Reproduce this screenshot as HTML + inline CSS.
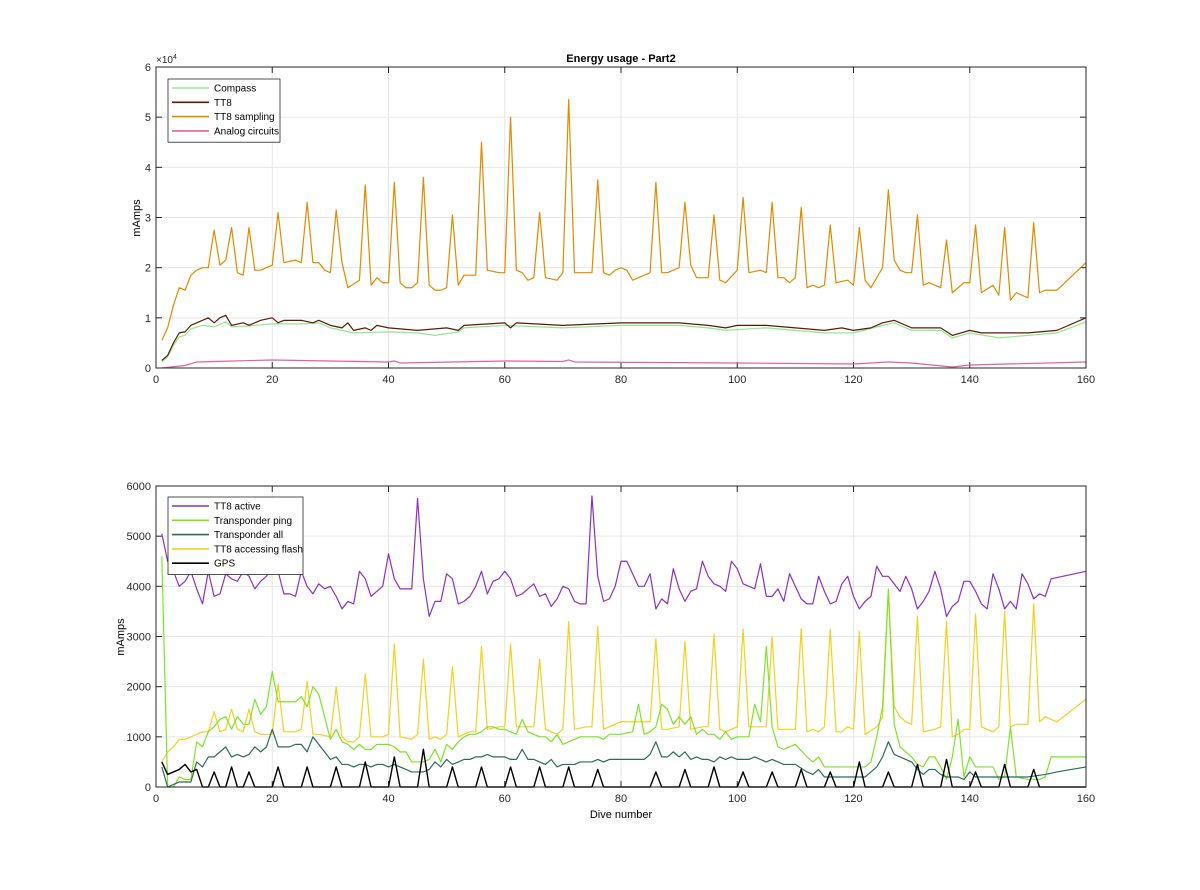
<!DOCTYPE html>
<html><head><meta charset="utf-8"><style>
body{margin:0;background:#fff;font-family:"Liberation Sans",sans-serif}
svg text{font-family:"Liberation Sans",sans-serif}
</style></head><body>
<svg id="fig" width="1200" height="885" xmlns="http://www.w3.org/2000/svg"></svg>
<script>
// ---- top chart data (units of 1e4 mAmps) ----
const sampX=[1,2,3,4,5,6,7,8,9,10,11,12,13,14,15,16,17,18,20,21,22,24,25,26,27,28,29,30,31,32,33,35,36,37,38,39,40,41,42,43,44,45,46,47,48,49,50,51,52,53,55,56,57,59,60,61,62,63,64,65,66,67,69,70,71,72,74,75,76,77,78,79,80,81,82,84,85,86,87,88,90,91,92,93,95,96,97,98,100,101,102,104,105,106,107,108,109,110,111,112,113,114,115,116,117,119,120,121,122,123,125,126,127,128,129,130,131,132,133,135,136,137,138,139,140,141,142,144,145,146,147,148,150,151,152,153,155,160];
const sampY=[0.55,0.8,1.25,1.6,1.55,1.85,1.95,2.0,2.0,2.75,2.05,2.15,2.8,1.9,1.85,2.8,1.95,1.95,2.05,3.1,2.1,2.15,2.1,3.3,2.1,2.1,1.95,1.9,3.15,2.1,1.6,1.75,3.65,1.65,1.8,1.7,1.7,3.7,1.7,1.6,1.6,1.7,3.8,1.65,1.55,1.55,1.6,3.05,1.65,1.85,1.85,4.5,1.95,1.9,1.9,5.0,1.95,1.9,1.75,1.8,3.1,1.8,1.75,1.9,5.35,1.9,1.9,1.9,3.75,1.9,1.85,1.95,2.0,1.95,1.75,1.85,1.9,3.7,1.9,1.9,2.0,3.3,2.05,1.8,1.8,3.05,1.75,1.7,1.95,3.4,1.9,1.95,1.9,3.3,1.8,1.8,1.7,1.8,3.2,1.6,1.65,1.6,1.65,2.85,1.7,1.75,1.65,2.8,1.75,1.6,2.0,3.55,2.15,1.95,1.9,1.9,3.05,1.65,1.7,1.6,2.55,1.5,1.6,1.7,1.7,2.85,1.5,1.65,1.45,2.8,1.35,1.5,1.4,2.9,1.5,1.55,1.55,2.1];
const tt8X=[1,2,3,4,5,6,8,9,10,11,12,13,15,16,18,20,21,22,25,27,28,30,32,33,34,36,37,38,40,45,50,52,53,60,61,62,70,80,90,95,98,100,105,110,115,118,120,123,125,127,130,135,137,140,142,145,150,155,160];
const tt8Y=[0.15,0.25,0.5,0.7,0.72,0.85,0.95,1.0,0.9,1.0,1.05,0.85,0.9,0.85,0.95,1.0,0.9,0.95,0.95,0.9,0.95,0.85,0.8,0.9,0.75,0.8,0.75,0.85,0.8,0.75,0.8,0.75,0.85,0.9,0.8,0.9,0.85,0.9,0.9,0.85,0.8,0.85,0.85,0.8,0.75,0.8,0.75,0.8,0.9,0.95,0.8,0.8,0.65,0.75,0.7,0.7,0.7,0.75,1.0];
const compX=[1,2,3,4,5,6,8,10,12,13,15,20,25,28,30,34,40,45,48,52,53,60,70,80,90,95,98,105,115,120,125,127,130,135,137,140,145,150,155,160];
const compY=[0.12,0.22,0.45,0.62,0.65,0.78,0.85,0.82,0.92,0.82,0.83,0.88,0.88,0.9,0.8,0.7,0.72,0.7,0.65,0.72,0.8,0.85,0.8,0.85,0.85,0.8,0.75,0.8,0.7,0.7,0.85,0.9,0.75,0.75,0.6,0.7,0.6,0.65,0.7,0.92];
const anaX=[1,5,7,10,20,30,40,41,42,60,70,71,72,100,120,126,130,137,140,160];
const anaY=[0.0,0.05,0.12,0.13,0.16,0.14,0.12,0.14,0.1,0.14,0.13,0.16,0.12,0.1,0.08,0.12,0.1,0.02,0.06,0.12];
// ---- bottom chart data (mAmps) ----
const actX=[1,2,3,4,5,6,7,8,9,10,11,12,13,14,15,16,17,18,19,20,21,22,23,24,25,26,27,28,29,30,31,32,33,34,35,36,37,38,39,40,41,42,43,44,45,46,47,48,49,50,51,52,53,54,55,56,57,58,59,60,61,62,63,64,65,66,67,68,69,70,71,72,73,74,75,76,77,78,79,80,81,82,83,84,85,86,87,88,89,90,91,92,93,94,95,96,97,98,99,100,101,102,103,104,105,106,107,108,109,110,111,112,113,114,115,116,117,118,119,120,121,122,123,124,125,126,127,128,129,130,131,132,133,134,135,136,137,138,139,140,141,142,143,144,145,146,147,148,149,150,151,152,153,154,160];
const actY=[5050,4500,4300,4000,4100,4300,3950,3650,4300,3800,3850,4250,4150,4100,4300,4200,3950,4100,4200,4400,4300,3850,3850,3800,4300,4000,3850,4050,3950,4000,3800,3550,3700,3650,4300,4150,3800,3900,4000,4650,4150,3950,3950,3950,5750,4150,3400,3700,3700,4250,4150,3650,3700,3800,4000,4300,3850,4100,4150,4300,4150,3800,3850,3950,4050,3800,3850,3600,3750,4000,3950,3700,3650,3650,5800,4200,3700,3750,4000,4500,4500,4250,4000,4000,4250,3550,3750,3650,4350,3950,3700,3900,3950,4500,4200,4050,4000,3900,4500,4350,4050,4000,3950,4450,3800,3800,3950,3700,4250,4000,3750,3650,3650,4200,3900,3650,3700,4050,4200,3800,3550,3700,3800,4400,4200,4200,4050,3900,4200,3950,3550,3700,3900,4300,3950,3400,3600,3700,4100,4100,3900,3650,3550,4250,3950,3550,3700,3550,4250,4050,3750,3850,3800,4150,4300];
const flashX=[1,2,3,4,5,6,7,8,9,10,11,12,13,14,15,16,17,18,20,21,22,24,25,26,27,28,30,31,32,33,34,35,36,37,39,40,41,42,44,45,46,47,48,49,50,51,52,54,55,56,57,59,60,61,62,64,65,66,67,68,69,70,71,72,74,75,76,77,79,80,81,84,85,86,87,88,90,91,92,94,95,96,97,98,100,101,102,104,105,106,107,108,110,111,112,113,114,115,116,117,118,119,120,121,122,124,125,126,127,128,129,130,131,132,134,135,136,137,138,139,140,141,142,144,145,146,147,148,150,151,152,153,155,160];
const flashY=[500,700,800,950,950,1000,1050,1100,1100,1500,1100,1150,1550,1150,1100,1550,1100,1050,1050,2050,1100,1100,1150,2100,1050,1050,1000,2000,1000,900,900,1000,2250,1000,1000,1050,2850,1000,950,1050,2550,950,1000,950,1050,2400,1000,1100,1100,2800,1150,1200,1200,2850,1200,1200,1200,2550,1150,1100,1050,1150,3300,1150,1200,1200,3200,1150,1250,1300,1300,1300,1300,2950,1150,1150,1200,2900,1150,1200,1200,3050,1150,1100,1200,3150,1200,1200,1200,3000,1150,1150,1150,3150,1100,1150,1100,1200,3150,1100,1100,1200,1150,3100,1050,1200,1400,3900,1600,1400,1300,1250,3400,1100,1150,1200,3300,1000,1050,1150,1150,3450,1200,1100,1200,3500,1200,1250,1250,3650,1300,1400,1300,1750];
const pingX=[1,2,3,4,5,6,7,8,9,10,11,12,13,14,15,16,17,18,19,20,21,22,
24,25,26,27,28,29,30,31,32,33,34,35,36,37,38,39,40,41,42,43,44,45,46,47,48,49,50,51,52,53,54,55,56,57,58,59,60,61,62,63,64,65,66,67,68,69,70,71,72,73,74,75,76,77,78,79,80,
82,83,84,85,86,87,88,89,90,91,92,93,94,95,96,97,98,99,100,102,103,104,105,106,107,108,
110,112,113,114,115,120,122,123,124,125,126,127,128,129,130,131,132,133,134,135,136,137,138,139,140,141,144,145,146,147,148,150,152,153,154,160];
const pingY=[4600,0,0,200,150,150,900,800,1100,1200,1350,1400,1150,1400,1250,1250,1750,1450,1600,2300,1700,1700,
1700,1800,1600,2000,1850,1400,950,1150,900,850,750,850,750,750,850,850,850,800,700,700,500,500,500,550,750,500,850,750,900,1000,1050,1050,1100,1200,1200,1150,1150,1100,1050,1350,1100,1050,1000,1000,900,1050,850,900,950,1000,1000,1000,1000,950,1050,1050,1050,
1100,1650,1050,1100,1200,1650,1550,1250,1400,1250,1400,1050,1150,1050,1050,950,1100,950,1000,1000,1650,1300,2800,1200,800,750,
850,600,500,600,400,400,400,500,1000,1600,3950,1250,800,700,600,450,400,600,600,400,150,600,1350,200,600,400,400,150,200,1200,200,150,150,200,600,600];
const allX=[1,2,4,5,6,7,8,9,10,11,12,13,14,15,16,17,18,19,20,21,23,24,25,26,27,28,29,30,31,32,33,34,35,36,37,38,39,40,41,42,43,44,45,46,47,48,49,50,51,52,53,54,55,56,57,58,59,60,61,62,63,64,65,66,67,68,69,70,71,72,73,74,75,76,77,78,79,80,82,84,85,86,87,88,89,90,91,92,93,94,95,96,97,98,99,100,102,103,104,105,106,107,108,110,112,113,114,115,120,122,124,125,126,127,128,129,130,131,132,133,134,135,136,138,139,140,141,145,150,153,155,160];
const allY=[400,0,100,100,100,500,400,600,600,700,800,600,650,600,650,800,700,800,1150,800,800,850,850,700,1000,850,700,550,600,450,450,400,450,450,400,450,450,400,450,400,350,300,300,300,350,500,400,550,450,500,550,550,600,600,650,600,600,600,550,550,750,550,550,500,450,550,400,450,450,450,500,500,500,550,500,550,550,550,550,550,650,900,600,600,700,600,700,550,600,550,550,500,600,550,600,550,550,600,550,500,550,500,450,450,300,250,350,200,200,200,400,600,900,650,600,550,500,350,250,350,350,250,200,200,150,300,200,200,200,250,300,400];
const gpsPeakX=[10,13,16,21,26,31,36,41,46,51,56,61,66,71,76,86,91,96,101,106,111,116,121,126,131,136,141,146,151];
const gpsPeakY=[300,400,300,400,400,400,500,600,750,400,400,400,400,400,350,300,350,400,300,300,350,300,500,300,450,550,300,450,350];
const gpsStartX=[1,2,3,4,5,6,7,8];
const gpsStartY=[500,250,300,350,450,300,350,0];
const xTicks=[0,20,40,60,80,100,120,140,160];
const topYTicks=[0,1,2,3,4,5,6];
const botYTicks=[0,1000,2000,3000,4000,5000,6000];

const NS='http://www.w3.org/2000/svg';
const svg=document.getElementById('fig');
function mk(tag,attrs,parent){const e=document.createElementNS(NS,tag);for(const k in attrs)e.setAttribute(k,attrs[k]);(parent||svg).appendChild(e);return e;}
const L=156,R=1086;
const sx=v=>L+(v/160)*(R-L);
function axes(name,top,bot,ymax,yt,ylabels){
  const g=mk('g',{});
  
  
  const sy=v=>bot-(v/ymax)*(bot-top);
  mk('rect',{x:L,y:top,width:R-L,height:bot-top,fill:'#fff'},g);
  xTicks.forEach(t=>{const l=mk('line',{x1:sx(t),x2:sx(t),y1:top,y2:bot,stroke:'#e6e6e6','stroke-width':1},g);});
  yt.forEach(t=>{const l=mk('line',{x1:L,x2:R,y1:sy(t),y2:sy(t),stroke:'#e6e6e6','stroke-width':1},g);});
  xTicks.forEach(t=>{
    mk('line',{x1:sx(t),x2:sx(t),y1:bot,y2:bot-6,stroke:'#262626'},g);
    mk('line',{x1:sx(t),x2:sx(t),y1:top,y2:top+6,stroke:'#262626'},g);
    const tx=mk('text',{x:sx(t),y:bot+15,'font-size':11,'text-anchor':'middle',fill:'#262626'},g);tx.textContent=t;
    
  });
  yt.forEach((t,i)=>{
    mk('line',{x1:L,x2:L+6,y1:sy(t),y2:sy(t),stroke:'#262626'},g);
    mk('line',{x1:R,x2:R-6,y1:sy(t),y2:sy(t),stroke:'#262626'},g);
    const tx=mk('text',{x:L-5,y:sy(t)+4,'font-size':11,'text-anchor':'end',fill:'#262626'},g);tx.textContent=ylabels[i];
    
  });
  return {g,sy,top,bot};
}
function line(ax,xs,ys,color,name,w){
  const n=Math.min(xs.length,ys.length);
  const pts=[];for(let i=0;i<n;i++)pts.push(sx(xs[i])+','+ax.sy(ys[i]));
  const p=mk('polyline',{points:pts.join(' '),fill:'none',stroke:color,'stroke-width':w||1.2,'stroke-linejoin':'round'},ax.g);
  
}
function frame(ax){mk('rect',{x:L,y:ax.top,width:R-L,height:ax.bot-ax.top,fill:'none',stroke:'#262626','stroke-width':1},ax.g);}
function legend(ax,x,y,w,items){
  const g=mk('g',{},ax.g);
  const h=items.length*14.3+6;
  mk('rect',{x:x,y:y,width:w,height:h,fill:'#fff',stroke:'#262626','stroke-width':0.8},g);
  items.forEach((it,i)=>{
    const yy=y+9+i*14.3;
    const e=mk('g',{},g);
    mk('line',{x1:x+4,x2:x+41,y1:yy,y2:yy,stroke:it[1],'stroke-width':1.6},e);
    const t=mk('text',{x:x+46,y:yy+3.5,'font-size':10,fill:'#000'},e);t.textContent=it[0];
  });
}
// top
const A=axes('top-chart',67,368,6,topYTicks,['0','1','2','3','4','5','6']);
line(A,anaX,anaY,'#e0619f','analog-circuits-line');
line(A,compX,compY,'#8fe88f','compass-line');
line(A,tt8X,tt8Y,'#5c1a0a','tt8-line');
line(A,sampX,sampY,'#e08a00','tt8-sampling-line');
frame(A);
legend(A,168,79,112,[['Compass','#8fe88f'],['TT8','#5c1a0a'],['TT8 sampling','#e08a00'],['Analog circuits','#e0619f']]);
let t=mk('text',{x:621,y:62,'font-size':11,'font-weight':'bold','text-anchor':'middle'});t.textContent='Energy usage - Part2';

t=mk('text',{x:156,y:63,'font-size':10,fill:'#262626'});t.innerHTML='×10<tspan font-size="7" dy="-4">4</tspan>';

t=mk('text',{x:140,y:218,'font-size':11,'text-anchor':'middle',transform:'rotate(-90 140 218)'});t.textContent='mAmps';

// bottom
const B=axes('bottom-chart',486,787,6000,botYTicks,['0','1000','2000','3000','4000','5000','6000']);
line(B,actX,actY,'#8a32be','tt8-active-line');
line(B,flashX,flashY,'#f2d022','tt8-flash-line');
line(B,pingX,pingY,'#7ee22a','transponder-ping-line');
line(B,allX,allY,'#2e6b5a','transponder-all-line');
const gx=gpsStartX.slice(),gy=gpsStartY.slice();
gpsPeakX.forEach((p,i)=>{gx.push(p-1,p,p+1);gy.push(0,gpsPeakY[i],0);});
gx.push(160);gy.push(0);
line(B,gx,gy,'#000','gps-line',1.4);
frame(B);
legend(B,168,497,135,[['TT8 active','#8a32be'],['Transponder ping','#7ee22a'],['Transponder all','#2e6b5a'],['TT8 accessing flash','#f2d022'],['GPS','#000']]);
t=mk('text',{x:621,y:818,'font-size':11,'text-anchor':'middle'});t.textContent='Dive number';

t=mk('text',{x:124,y:637,'font-size':11,'text-anchor':'middle',transform:'rotate(-90 124 637)'});t.textContent='mAmps';

</script>
</body></html>
